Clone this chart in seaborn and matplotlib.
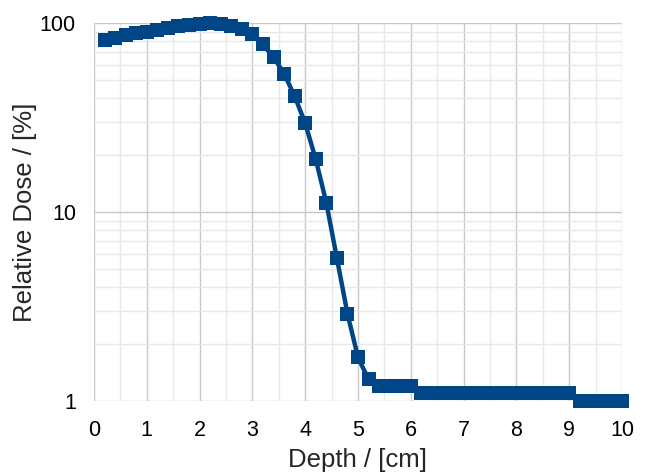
import numpy as np
import pandas as pd
import matplotlib
matplotlib.use("Agg")
import matplotlib.pyplot as plt
import seaborn as sns
from matplotlib.ticker import FixedLocator, NullFormatter, FixedFormatter

depth = [0.2, 0.4, 0.6, 0.8, 1.0, 1.2, 1.4, 1.6, 1.8, 2.0,
         2.2, 2.4, 2.6, 2.8, 3.0, 3.2, 3.4, 3.6, 3.8, 4.0,
         4.2, 4.4, 4.6, 4.8, 5.0, 5.2, 5.4, 5.6, 5.8, 6.0,
         6.2, 6.4, 6.6, 6.8, 7.0, 7.2, 7.4, 7.6, 7.8, 8.0,
         8.2, 8.4, 8.6, 8.8, 9.0, 9.2, 9.4, 9.6, 9.8, 10.0]
dose = [81, 83, 86, 88, 90, 92, 94, 96, 98, 99,
        100, 99, 97, 93, 87, 77, 66, 54, 41, 29.5,
        19, 11.2, 5.7, 2.9, 1.7, 1.3, 1.2, 1.2, 1.2, 1.2,
        1.1, 1.1, 1.1, 1.1, 1.1, 1.1, 1.1, 1.1, 1.1, 1.1,
        1.1, 1.1, 1.1, 1.1, 1.1, 1.0, 1.0, 1.0, 1.0, 1.0]
x_ticks = [0, 1, 2, 3, 4, 5, 6, 7, 8, 9, 10]
y_ticks = [1, 10, 100]
y_tick_labels = ["1", "10", "100"]

df = pd.DataFrame({"Depth": depth, "Dose": dose})

sns.set_style("white")
plt.rcParams["font.family"] = ["Liberation Sans", "DejaVu Sans"]

fig = plt.figure(figsize=(6.48, 4.76), dpi=100)
ax = fig.add_axes([94/648, 1-401/476, (622-94)/648, (401-23)/476])

color = "#004586"
sns.lineplot(data=df, x="Depth", y="Dose", ax=ax, color=color, linewidth=3.2,
             marker="s", markersize=10.5, markeredgewidth=0, clip_on=False, zorder=5)

ax.set_yscale("log")
ax.set_xlim(0, 10)
ax.set_ylim(1, 100)
ax.set_xticks(x_ticks)
ax.set_xticks(np.arange(0.5, 10, 1.0), minor=True)
ax.yaxis.set_major_locator(FixedLocator(y_ticks))
ax.yaxis.set_major_formatter(FixedFormatter(y_tick_labels))
minor_y = [m * d for d in (1, 10) for m in range(2, 10)]
ax.yaxis.set_minor_locator(FixedLocator(minor_y))
ax.yaxis.set_minor_formatter(NullFormatter())

ax.grid(True, which="major", color="#c8c8c8", linewidth=1.0)
ax.grid(True, which="minor", color="#e8e8e8", linewidth=1.0)
ax.set_axisbelow(True)
for s in ax.spines.values():
    s.set_visible(False)

ax.tick_params(axis="both", which="major", labelsize=15.5, colors="#c8c8c8",
               labelcolor="black", direction="out")
ax.tick_params(axis="x", which="major", length=4, width=1, pad=10)
ax.tick_params(axis="y", which="major", length=7, width=1, pad=6)
ax.tick_params(axis="both", which="minor", length=0)

ax.set_xlabel("Depth / [cm]", fontsize=18.5, labelpad=5)
ax.set_ylabel("Relative Dose / [%]", fontsize=18.5, labelpad=2)
if ax.legend_:
    ax.legend_.remove()

fig.savefig("out.png", dpi=100)
